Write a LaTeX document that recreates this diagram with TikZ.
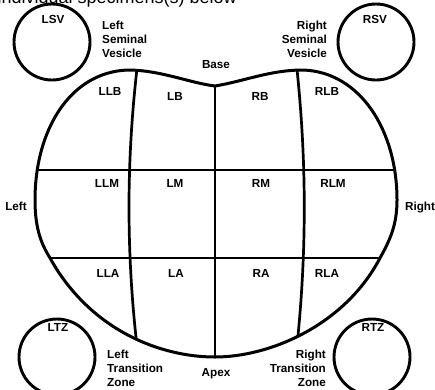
\documentclass[tikz,border=0pt]{standalone}
\usepackage{fontspec}
\setmainfont{Liberation Sans}
\begin{document}
\begin{tikzpicture}[x=1pt,y=-1pt,
  lbl/.style={font=\bfseries\fontsize{11.7}{14.3}\selectfont, inner sep=0pt},
  ring/.style={draw, circle, line width=2.9pt, minimum size=76pt, inner sep=0pt},
  edge/.style={line width=2.7pt, line join=round},
  rim/.style={line width=3pt, line join=round}]
\useasboundingbox (0,0) rectangle (435,389);
\clip (0,0) rectangle (435,389);

% top truncated caption
\node[anchor=base east, inner sep=0pt, font=\fontsize{18}{20}\selectfont] (cap) at (237,3) {individual specimens(s) below};

% outline
\def\outline{(215,86) .. controls (190,83) and (160,70) .. (128,70)
  .. controls (70,72) and (35,130) .. (35,200)
  .. controls (35,230) and (42,245) .. (50,258)
  .. controls (90,330) and (160,357) .. (215,357)
  .. controls (270,357) and (345,325) .. (380,258)
  .. controls (390,240) and (397,225) .. (397,200)
  .. controls (397,130) and (360,72) .. (303,70)
  .. controls (270,70) and (245,81) .. (215,86) -- cycle}

\begin{scope}
  \clip \outline;
  \draw[edge] (0,170) -- (435,170);
  \draw[edge] (0,258) -- (435,258);
  \draw[edge] (138,60) .. controls (126,160) and (126,255) .. (138,355);
  \draw[edge] (296,60) .. controls (307,160) and (307,255) .. (296,355);
  \draw[edge] (215,80) -- (215,365);
\end{scope}
\draw[rim] \outline;

% circles
\node[ring] (lsvc) at (52,42) {};
\node[ring] (rsvc) at (376,42) {};
\node[ring] (ltzc) at (57,357) {};
\node[ring] (rtzc) at (372,357) {};

% circle labels
\node[lbl, anchor=base] (lsv) at (53,23) {LSV};
\node[lbl, anchor=base] (rsv) at (375,23) {RSV};
\node[lbl, anchor=base] (ltz) at (58,331) {LTZ};
\node[lbl, anchor=base] (rtz) at (373,331) {RTZ};

% side texts
\node[lbl, anchor=north west, align=left] (lsvt) at (102,20.5) {Left\\Seminal\\Vesicle};
\node[lbl, anchor=north east, align=right] (rsvt) at (327,20.5) {Right\\Seminal\\Vesicle};
\node[lbl, anchor=north west, align=left] (ltzt) at (107,349.5) {Left\\Transition\\Zone};
\node[lbl, anchor=north east, align=right] (rtzt) at (326,349.5) {Right\\Transition\\Zone};

\node[lbl, anchor=base] (base) at (216,68) {Base};
\node[lbl, anchor=base] (apex) at (216,376) {Apex};
\node[lbl, anchor=base] (left) at (16,210) {Left};
\node[lbl, anchor=base] (right) at (420,210) {Right};

% zone labels
\node[lbl, anchor=base] (llb) at (110,95) {LLB};
\node[lbl, anchor=base] (lb) at (175,100) {LB};
\node[lbl, anchor=base] (rb) at (260,100) {RB};
\node[lbl, anchor=base] (rlb) at (327,95) {RLB};
\node[lbl, anchor=base] (llm) at (107,187) {LLM};
\node[lbl, anchor=base] (lm) at (175,187) {LM};
\node[lbl, anchor=base] (rm) at (261,187) {RM};
\node[lbl, anchor=base] (rlm) at (333,187) {RLM};
\node[lbl, anchor=base] (lla) at (108,277) {LLA};
\node[lbl, anchor=base] (la) at (176,277) {LA};
\node[lbl, anchor=base] (ra) at (261,277) {RA};
\node[lbl, anchor=base] (rla) at (327,277) {RLA};
\end{tikzpicture}
\end{document}
